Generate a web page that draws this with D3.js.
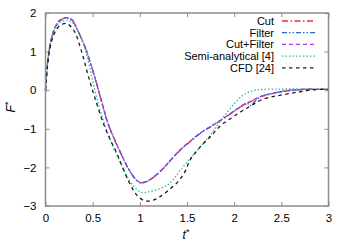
<!DOCTYPE html>
<html>
<head>
<meta charset="utf-8">
<script src="https://cdn.jsdelivr.net/npm/d3@7"></script>
<style>
  html, body { margin: 0; padding: 0; background: #fff; }
  text { font-family: "Liberation Sans", Arial, sans-serif; fill: #000; }
</style>
</head>
<body>
<div id="chart"></div>
<script>
// Force F* vs time t*
const xTicks = [0, 0.5, 1, 1.5, 2, 2.5, 3];
const yTicks = [-3, -2, -1, 0, 1, 2];

const cutT = [0, 0.025, 0.055, 0.1, 0.15, 0.22, 0.28, 0.34, 0.43, 0.52, 0.59, 0.66, 0.73, 0.8, 0.86, 0.92, 0.97, 1.01, 1.08, 1.15, 1.24, 1.33, 1.43, 1.52, 1.64, 1.75, 1.86, 1.97, 2.07, 2.18, 2.28, 2.4, 2.5, 2.62, 2.75, 2.87, 3.0];
const cutF = [0, 0.78, 1.25, 1.62, 1.8, 1.88, 1.82, 1.55, 1.04, 0.35, -0.26, -0.85, -1.27, -1.65, -1.95, -2.2, -2.35, -2.40, -2.36, -2.25, -2.05, -1.81, -1.55, -1.36, -1.12, -0.95, -0.78, -0.6, -0.43, -0.29, -0.17, -0.09, -0.04, 0.0, 0.02, 0.02, 0.02];

const filterT = [0, 0.025, 0.055, 0.1, 0.15, 0.22, 0.28, 0.34, 0.43, 0.45, 0.52, 0.59, 0.66, 0.73, 0.8, 0.86, 0.92, 0.97, 1.01, 1.08, 1.15, 1.24, 1.33, 1.43, 1.52, 1.64, 1.75, 1.86, 1.97, 2.07, 2.14, 2.16, 2.28, 2.4, 2.5, 2.62, 2.75, 2.87, 3.0];
const filterF = [0, 0.77, 1.24, 1.61, 1.8, 1.87, 1.82, 1.56, 1.06, 0.9, 0.36, -0.25, -0.84, -1.26, -1.64, -1.95, -2.2, -2.34, -2.40, -2.36, -2.24, -2.05, -1.8, -1.54, -1.35, -1.11, -0.94, -0.77, -0.59, -0.42, -0.33, -0.4, -0.17, -0.09, -0.04, 0.0, 0.02, 0.02, 0.02];

const cutFilterT = [0, 0.025, 0.055, 0.1, 0.15, 0.22, 0.28, 0.34, 0.43, 0.52, 0.59, 0.66, 0.73, 0.8, 0.86, 0.92, 0.97, 1.01, 1.08, 1.15, 1.24, 1.33, 1.43, 1.52, 1.64, 1.75, 1.86, 1.97, 2.07, 2.18, 2.28, 2.4, 2.5, 2.62, 2.75, 2.87, 3.0];
const cutFilterF = [0, 0.79, 1.26, 1.63, 1.81, 1.88, 1.83, 1.56, 1.05, 0.36, -0.25, -0.84, -1.27, -1.64, -1.94, -2.19, -2.34, -2.39, -2.35, -2.24, -2.04, -1.8, -1.54, -1.35, -1.11, -0.94, -0.77, -0.59, -0.42, -0.28, -0.16, -0.08, -0.03, 0.01, 0.03, 0.03, 0.02];

const semiT = [0, 0.025, 0.055, 0.1, 0.15, 0.23, 0.3, 0.36, 0.43, 0.49, 0.56, 0.64, 0.72, 0.8, 0.87, 0.94, 1.02, 1.1, 1.2, 1.29, 1.36, 1.43, 1.52, 1.64, 1.75, 1.86, 2.0, 2.1, 2.2, 2.3, 2.5, 2.75, 3.0];
const semiF = [0, 0.76, 1.22, 1.58, 1.75, 1.81, 1.72, 1.45, 0.98, 0.35, -0.35, -0.98, -1.48, -1.9, -2.25, -2.5, -2.65, -2.63, -2.56, -2.46, -2.3, -2.07, -1.81, -1.47, -1.15, -0.78, -0.35, -0.12, -0.01, 0.02, 0.03, 0.03, 0.03];

const cfdT = [0, 0.025, 0.055, 0.1, 0.15, 0.22, 0.3, 0.38, 0.45, 0.53, 0.62, 0.69, 0.75, 0.8, 0.9, 0.98, 1.06, 1.14, 1.22, 1.3, 1.4, 1.47, 1.54, 1.64, 1.75, 1.86, 1.97, 2.07, 2.18, 2.28, 2.4, 2.49, 2.6, 2.7, 2.8, 2.9, 3.0];
const cfdF = [0, 0.72, 1.18, 1.5, 1.67, 1.73, 1.55, 1.02, 0.4, -0.25, -0.9, -1.3, -1.6, -1.9, -2.45, -2.75, -2.87, -2.85, -2.75, -2.6, -2.38, -2.15, -1.78, -1.47, -1.2, -0.91, -0.72, -0.56, -0.4, -0.26, -0.17, -0.13, -0.08, -0.04, 0.0, 0.02, 0.02];

const series = [
  { name: "Cut", t: cutT, f: cutF, color: "#e8362c", dash: "6,2.5,1.5,2.5" },
  { name: "Filter", t: filterT, f: filterF, color: "#1f6fc0", dash: "5,2,1.5,2,1.5,2" },
  { name: "Cut+Filter", t: cutFilterT, f: cutFilterF, color: "#a03cf0", dash: "4,3" },
  { name: "Semi-analytical [4]", t: semiT, f: semiF, color: "#22c39c", dash: "1.5,2" },
  { name: "CFD [24]", t: cfdT, f: cfdF, color: "#1a1a1a", dash: "3.5,3.5" }
];

const W = 350, H = 245;
const svg = d3.select("#chart").append("svg").attr("width", W).attr("height", H);

const x = d3.scaleLinear().domain([0, 3]).range([45.5, 328.5]);
const y = d3.scaleLinear().domain([-3, 2]).range([206, 13]);

// axes: gnuplot style, inward ticks mirrored on all sides
const tickLen = 4;
const axisColor = "#8c8c8c";

svg.append("g").attr("transform", `translate(0,${y(-3)})`)
  .call(d3.axisBottom(x).tickValues(xTicks).tickSize(-tickLen).tickPadding(8).tickFormat(d3.format("")))
  .call(a => a.select(".domain").remove());
svg.append("g").attr("transform", `translate(0,${y(2)})`)
  .call(d3.axisTop(x).tickValues(xTicks).tickSize(-tickLen).tickFormat(""))
  .call(a => a.select(".domain").remove());
svg.append("g").attr("transform", `translate(${x(0)},0)`)
  .call(d3.axisLeft(y).tickValues(yTicks).tickSize(-tickLen).tickPadding(9).tickFormat(d3.format("")))
  .call(a => a.select(".domain").remove());
svg.append("g").attr("transform", `translate(${x(3)},0)`)
  .call(d3.axisRight(y).tickValues(yTicks).tickSize(-tickLen).tickFormat(""))
  .call(a => a.select(".domain").remove());

svg.selectAll(".tick line").attr("stroke", axisColor).attr("stroke-width", 1);
svg.selectAll(".tick text")
  .attr("font-size", 11.5)
  .attr("font-family", "Liberation Sans, Arial, sans-serif")
  .attr("fill", "#000");

// curves
const line = d3.line()
  .x(d => x(d[0]))
  .y(d => y(d[1]))
  .curve(d3.curveCatmullRom.alpha(0.5));

const plot = svg.append("g");
series.forEach(s => {
  const pts = s.t.map((t, i) => [t, s.f[i]]);
  plot.append("path")
    .datum(pts)
    .attr("d", line)
    .attr("fill", "none")
    .attr("stroke", s.color)
    .attr("stroke-width", 1.3)
    .attr("stroke-dasharray", s.dash);
});

// frame
svg.append("rect")
  .attr("x", x(0)).attr("y", y(2))
  .attr("width", x(3) - x(0)).attr("height", y(-3) - y(2))
  .attr("fill", "none")
  .attr("stroke", axisColor)
  .attr("stroke-width", 1.5);

// legend
const leg = svg.append("g");
series.forEach((s, i) => {
  const yy = 21 + i * 11.7;
  leg.append("text")
    .attr("x", 274).attr("y", yy)
    .attr("dy", "0.35em")
    .attr("text-anchor", "end")
    .attr("font-size", 11)
    .text(s.name);
  leg.append("line")
    .attr("x1", 282).attr("x2", 315)
    .attr("y1", yy).attr("y2", yy)
    .attr("stroke", s.color)
    .attr("stroke-width", 1.3)
    .attr("stroke-dasharray", s.dash);
});

// axis titles
const yl = svg.append("text")
  .attr("transform", "translate(15,107) rotate(-90)")
  .attr("text-anchor", "middle")
  .attr("font-size", 12);
yl.append("tspan").attr("font-style", "italic").text("F");
yl.append("tspan").attr("font-size", 9).attr("dy", -4).text("*");

const xl = svg.append("text")
  .attr("x", 186).attr("y", 239)
  .attr("text-anchor", "middle")
  .attr("font-size", 12);
xl.append("tspan").attr("font-style", "italic").text("t");
xl.append("tspan").attr("font-size", 9).attr("dy", -4).text("*");
</script>
</body>
</html>
